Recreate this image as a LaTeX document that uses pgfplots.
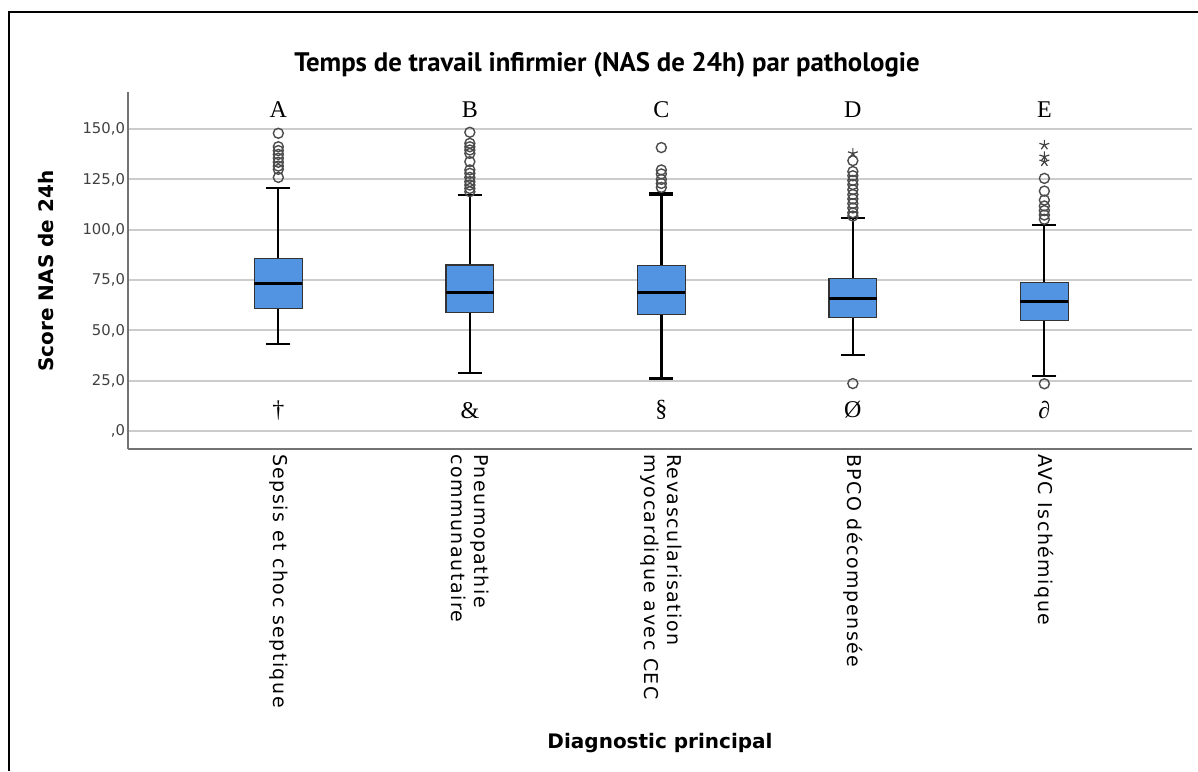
\documentclass[border=0pt]{standalone}
\usepackage{pgfplots}
\pgfplotsset{compat=1.18}
\usepgfplotslibrary{statistics}
\usepackage{fontspec}
\setmainfont{DejaVu Sans}
\newfontfamily\serif{Liberation Serif}
\newfontfamily\titlefont{PT Sans}
\newfontfamily\tickfont[LetterSpace=8]{DejaVu Sans}
\definecolor{boxblue}{RGB}{82,148,226}
\begin{document}
\begin{tikzpicture}
\begin{axis}[
  at={(64pt,161pt)}, anchor=south west,
  scale only axis, width=532pt, height=178.5pt,
  xmin=0.215, xmax=5.771, ymin=-8.9, ymax=168.4,
  axis lines*=left,
  axis line style={draw=black!55, line width=0.8pt},
  major tick length=0pt,
  xtick={1,2,3,4,5},
  xticklabels={{Sepsis et choc septique},{Pneumopathie\\communautaire},{Revascularisation\\myocardique avec CEC},{BPCO décompensée},{AVC Ischémique}},
  xticklabel style={rotate=-90, anchor=west, align=left, font=\tickfont\fontsize{9.5}{11.5}\selectfont, xshift=-1pt},
  ytick={0,25,50,75,100,125,150},
  yticklabels={{,0},{25,0},{50,0},{75,0},{100,0},{125,0},{150,0}},
  yticklabel style={font=\fontsize{7.4}{8}\selectfont, text=black!75, xshift=2pt},
  ymajorgrids,
  grid style={black!20, line width=1pt},
  clip=false,
  boxplot/draw direction=y,
  boxplot/every box/.style={draw=black!80, line width=0.6pt, fill=boxblue},
  boxplot/every median/.style={black, line width=1.5pt},
  boxplot/every whisker/.style={black, line width=1pt},
  boxplot/box extend=0.25,
  boxplot/whisker extend=0.125,
]
\addplot[boxplot prepared={draw position=1, median=73.2, upper quartile=85.9, lower quartile=60.9, upper whisker=120.7, lower whisker=43.1},
  fill=boxblue, mark=o, mark size=2.5pt, mark options={draw=black!70, line width=0.7pt, fill=none}]
  coordinates {(1,147.9) (1,141.2) (1,139.3) (1,137.4) (1,135.5) (1,133.5) (1,131.6) (1,130.0) (1,126.0)};
\addplot[boxplot prepared={draw position=2, median=69.0, upper quartile=82.5, lower quartile=59.0, upper whisker=117.4, lower whisker=29.0},
  fill=boxblue, mark=o, mark size=2.5pt, mark options={draw=black!70, line width=0.7pt, fill=none}]
  coordinates {(2,148.4) (2,142.9) (2,141.2) (2,139.6) (2,137.9) (2,133.8) (2,129.7) (2,128.0) (2,126.0) (2,123.9) (2,122.2) (2,120.5) (2,118.9)};
\addplot[boxplot prepared={draw position=3, median=68.9, upper quartile=82.1, lower quartile=58.0, upper whisker=117.7, lower whisker=26.0,
  every whisker/.style={black, line width=1.6pt}},
  fill=boxblue, mark=o, mark size=2.5pt, mark options={draw=black!70, line width=0.7pt, fill=none}]
  coordinates {(3,140.8) (3,129.7) (3,127.7) (3,125.0) (3,123.0) (3,121.0)};
\addplot[boxplot prepared={draw position=4, median=65.6, upper quartile=75.8, lower quartile=56.3, upper whisker=105.6, lower whisker=37.8},
  fill=boxblue, mark=o, mark size=2.5pt, mark options={draw=black!70, line width=0.7pt, fill=none}]
  coordinates {(4,134.3) (4,128.9) (4,126.8) (4,124.5) (4,122.4) (4,119.9) (4,117.5) (4,115.3) (4,113.0) (4,110.8) (4,108.4) (4,106.8) (4,23.6)};
\addplot[boxplot prepared={draw position=5, median=64.6, upper quartile=73.7, lower quartile=54.8, upper whisker=102.3, lower whisker=27.6},
  fill=boxblue, mark=o, mark size=2.5pt, mark options={draw=black!70, line width=0.7pt, fill=none}]
  coordinates {(5,125.5) (5,119.2) (5,114.7) (5,111.8) (5,109.5) (5,107.3) (5,105.2) (5,23.5)};
\addplot[only marks, mark=star, mark size=2.6pt, mark options={draw=black!75, line width=0.6pt}]
  coordinates {(4,137.9) (5,142.1) (5,136.3) (5,133.8)};
\node[font=\serif\fontsize{12}{14}\selectfont] at (axis cs:1,159.5) {A};
\node[font=\serif\fontsize{12}{14}\selectfont] at (axis cs:2,159.5) {B};
\node[font=\serif\fontsize{12}{14}\selectfont] at (axis cs:3,159.5) {C};
\node[font=\serif\fontsize{12}{14}\selectfont] at (axis cs:4,159.5) {D};
\node[font=\serif\fontsize{12}{14}\selectfont] at (axis cs:5,159.5) {E};
\node[font=\serif\fontsize{12}{14}\selectfont] at (axis cs:1,10.4) {†};
\node[font=\serif\fontsize{12}{14}\selectfont] at (axis cs:2,10.4) {\&};
\node[font=\serif\fontsize{12}{14}\selectfont] at (axis cs:3,10.4) {§};
\node[font=\serif\fontsize{12}{14}\selectfont] at (axis cs:4,10.4) {Ø};
\node[font=\serif\fontsize{12}{14}\selectfont] at (axis cs:5,10.4) {∂};
\end{axis}
\node[font=\titlefont\bfseries\fontsize{13.4}{15}\selectfont] at (303.5pt,353pt) {Temps de travail infirmier (NAS de 24h) par pathologie};
\node[font=\bfseries\fontsize{10}{12}\selectfont, rotate=90] at (23pt,250pt) {Score NAS de 24h};
\node[font=\bfseries\fontsize{10}{12}\selectfont] at (330pt,14pt) {Diagnostic principal};
\draw[line width=1pt, black] (4.5pt,0pt) -- (4.5pt,379.5pt) -- (599pt,379.5pt);
\pgfresetboundingbox
\useasboundingbox (0,0) rectangle (599pt,385.5pt);
\end{tikzpicture}
\end{document}
